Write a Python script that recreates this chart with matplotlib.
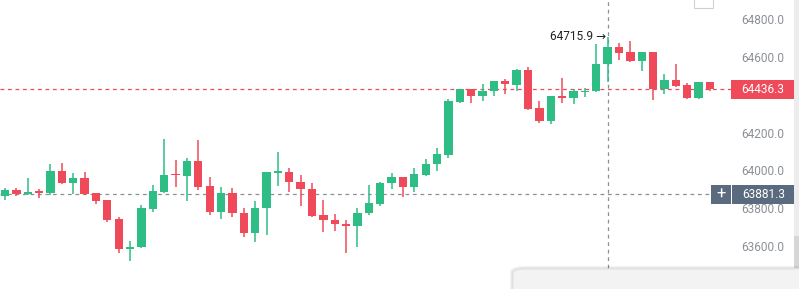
import matplotlib
matplotlib.use("Agg")
import matplotlib.pyplot as plt
from matplotlib.patches import Rectangle, FancyBboxPatch
from matplotlib.transforms import blended_transform_factory

plt.rcParams['font.family'] = ['Roboto', 'DejaVu Sans']

# ---- data (OHLC per candle) ----
opens = [63872.5, 63904, 63883, 63899, 63888.4, 64004.8, 63941, 63967.7, 63888.4, 63851,
         63750.8, 63592, 63602.6, 63803.7, 63893.7, 63989, 63978, 64057.7, 63925, 63787.8,
         63888.4, 63782.5, 63676.7, 63809, 63994, 63999.5, 63946.6, 63909.5, 63772, 63745.5,
         63724.3, 63713.7, 63782.5, 63830, 63941, 63973, 63920, 63983.6, 64041.8, 64089,
         64370, 64438.6, 64401.6, 64428, 64481, 64460, 64539, 64338, 64269, 64401.6,
         64391, 64422.7, 64428, 64571, 64661, 64634, 64587, 64634, 64438.6, 64486,
         64460, 64391, 64475.7]
highs = [63914.8, 63914.8, 63967.7, 63909.5, 64041.8, 64047, 63994, 63999.5, 63890, 63853,
         63761.4, 63634.4, 63825, 63930.7, 64174, 64063, 64073.5, 64168.8, 63973, 63920,
         63914.8, 63809, 63846, 64002, 64105, 64020.6, 63983.6, 63941, 63851, 63777,
         63745.5, 63809, 63930.7, 63946.6, 63994, 63975, 64020.6, 64068, 64126.5, 64385.7,
         64440, 64440, 64465, 64483, 64491.5, 64544, 64555, 64375, 64403, 64496.8,
         64438.6, 64444, 64676.7, 64715.9, 64682, 64692.6, 64636, 64636, 64518, 64571,
         64470.4, 64478, 64478]
lows = [63851, 63872.5, 63880, 63862, 63877.8, 63938, 63883, 63880, 63830, 63735,
        63571, 63528.6, 63600, 63787.8, 63890, 63920, 63846, 63904, 63772, 63750.8,
        63761.4, 63655.6, 63629, 63666, 63925, 63893.7, 63819.6, 63761.4, 63682, 63687,
        63571, 63602.6, 63772, 63819.6, 63909.5, 63867, 63893.7, 63980, 64004.8, 64073.5,
        64364.5, 64364.5, 64375, 64401.6, 64412, 64428, 64327.5, 64258.7, 64253.4, 64364.5,
        64359, 64396, 64425, 64475.7, 64592, 64581.5, 64534, 64380, 64412, 64449,
        64388, 64388, 64428]
closes = [63904, 63883, 63893.7, 63888.4, 64004.8, 63941, 63967.7, 63883, 63846, 63745.5,
          63592, 63602.6, 63809, 63899, 63983.6, 63983.6, 64057.7, 63920, 63787.8, 63888.4,
          63782.5, 63676.7, 63809, 63999.5, 64004.8, 63946.6, 63909.5, 63766.7, 63745.5, 63724.3,
          63713.7, 63782.5, 63835.4, 63941, 63973, 63920, 63989, 64041.8, 64094.7, 64375,
          64438.6, 64401.6, 64428, 64481, 64465, 64539, 64333, 64269, 64401.6, 64391,
          64428, 64428, 64571, 64661, 64629, 64587, 64634, 64438.6, 64486, 64454.5,
          64391, 64475.7, 64436.3]
price_ticks = [63600, 63800, 64000, 64200, 64400, 64600, 64800]
last_price = 64436.3
cross_price = 63881.3
cross_index = 53
high_label = 64715.9

GREEN = '#2ebd85'
RED = '#ef4a5a'
SLATE = '#5b6b7f'

W, H = 799, 289
fig = plt.figure(figsize=(W / 100, H / 100), dpi=100)
fig.patch.set_facecolor('white')
ax = fig.add_axes([0, 0, 1, 1])
ax.set_facecolor('white')
for s in ax.spines.values():
    s.set_visible(False)
ax.set_xticks([])
ax.set_yticks([])

step = 11.37
x0px = 5
ax.set_xlim(-x0px / step, (W - x0px) / step)
ppx = 5.291  # price per pixel
ax.set_ylim(64800 - (H - 20.7) * ppx, 64800 + 20.7 * ppx)

n = len(opens)
idx = list(range(n))
cols = [GREEN if c >= o else RED for o, c in zip(opens, closes)]
bottoms = [min(o, c) for o, c in zip(opens, closes)]
heights = [max(abs(c - o), 1.3 * ppx) for o, c in zip(opens, closes)]

tr_x = blended_transform_factory(ax.transAxes, ax.transData)
tr_y = blended_transform_factory(ax.transData, ax.transAxes)

# dashed lines
ax.plot([0, 731 / W], [last_price, last_price], transform=tr_x, color=RED, lw=0.9,
        linestyle=(0, (3, 3)), zorder=1)
ax.plot([0, 711 / W], [cross_price, cross_price], transform=tr_x, color='#8a8f98', lw=0.9,
        linestyle=(0, (3, 3)), zorder=1)
ax.plot([cross_index, cross_index], [(H - 268) / H, 1], transform=tr_y, color='#8a8f98', lw=0.9,
        linestyle=(0, (3, 3)), zorder=1)

ax.vlines(idx, lows, highs, colors=cols, lw=1.1, zorder=2)
ax.bar(idx, heights, bottom=bottoms, width=0.73, color=cols, edgecolor='none', zorder=3)

# high annotation
ax.text(cross_index - 0.15, high_label, f'{high_label:.1f} \u2192', ha='right', va='center',
        fontsize=8.6, color='#222222', zorder=5)

# price axis labels
for p in price_ticks:
    if p == 64400:
        continue
    ax.text(784.5 / W, p, f'{p:.1f}', transform=tr_x, ha='right', va='center',
            fontsize=8.6, color='#8c9097', zorder=4)

# last price box
bh = 19 * ppx
ax.add_patch(Rectangle((731 / W, last_price - bh / 2), 64 / W, bh, transform=tr_x,
                       facecolor=RED, edgecolor='none', zorder=6))
ax.text(763 / W, last_price, f'{last_price:.1f}', transform=tr_x, ha='center', va='center',
        fontsize=8.6, color='white', zorder=7)
# crosshair box
ax.add_patch(Rectangle((711 / W, cross_price - bh / 2), 20 / W, bh, transform=tr_x,
                       facecolor=SLATE, edgecolor='none', zorder=6))
ax.add_patch(Rectangle((732 / W, cross_price - bh / 2), 63 / W, bh, transform=tr_x,
                       facecolor=SLATE, edgecolor='none', zorder=6))
ax.text(721 / W, cross_price, '+', transform=tr_x, ha='center', va='center',
        fontsize=12, color='white', zorder=7)
ax.text(763.5 / W, cross_price, f'{cross_price:.1f}', transform=tr_x, ha='center', va='center',
        fontsize=8.6, color='white', zorder=7)

# decorations in figure pixel coords
def fr(x, y, w, h):
    return (x / W, 1 - (y + h) / H), w / W, h / H

(xy, w, h) = fr(794, 0, 5, 268)
fig.patches.append(Rectangle(xy, w, h, transform=fig.transFigure, facecolor='#ececec',
                             edgecolor='none', zorder=8))
(xy, w, h) = fr(794, 236, 5, 32)
fig.patches.append(Rectangle(xy, w, h, transform=fig.transFigure, facecolor='#d6d6d6',
                             edgecolor='none', zorder=9))
(xy, w, h) = fr(694, -2, 19, 10)
fig.patches.append(Rectangle(xy, w, h, transform=fig.transFigure, facecolor='white',
                             edgecolor='#d0d0d0', lw=0.8, zorder=8))
for k, a in enumerate([0.05, 0.04, 0.03]):
    (xy, w, h) = fr(513 - 3 + k, 269 - 3 + k, 300, 30)
    fig.patches.append(FancyBboxPatch(xy, w, h, boxstyle='round,pad=0,rounding_size=0.02',
                                      transform=fig.transFigure, facecolor=(0, 0, 0, a),
                                      edgecolor='none', zorder=9))
(xy, w, h) = fr(513, 269, 300, 30)
fig.patches.append(FancyBboxPatch(xy, w, h, boxstyle='round,pad=0,rounding_size=0.015',
                                  transform=fig.transFigure, facecolor='#f3f3f3',
                                  edgecolor='#e2e2e2', lw=0.8, zorder=10))

fig.savefig('out.png', dpi=100)
